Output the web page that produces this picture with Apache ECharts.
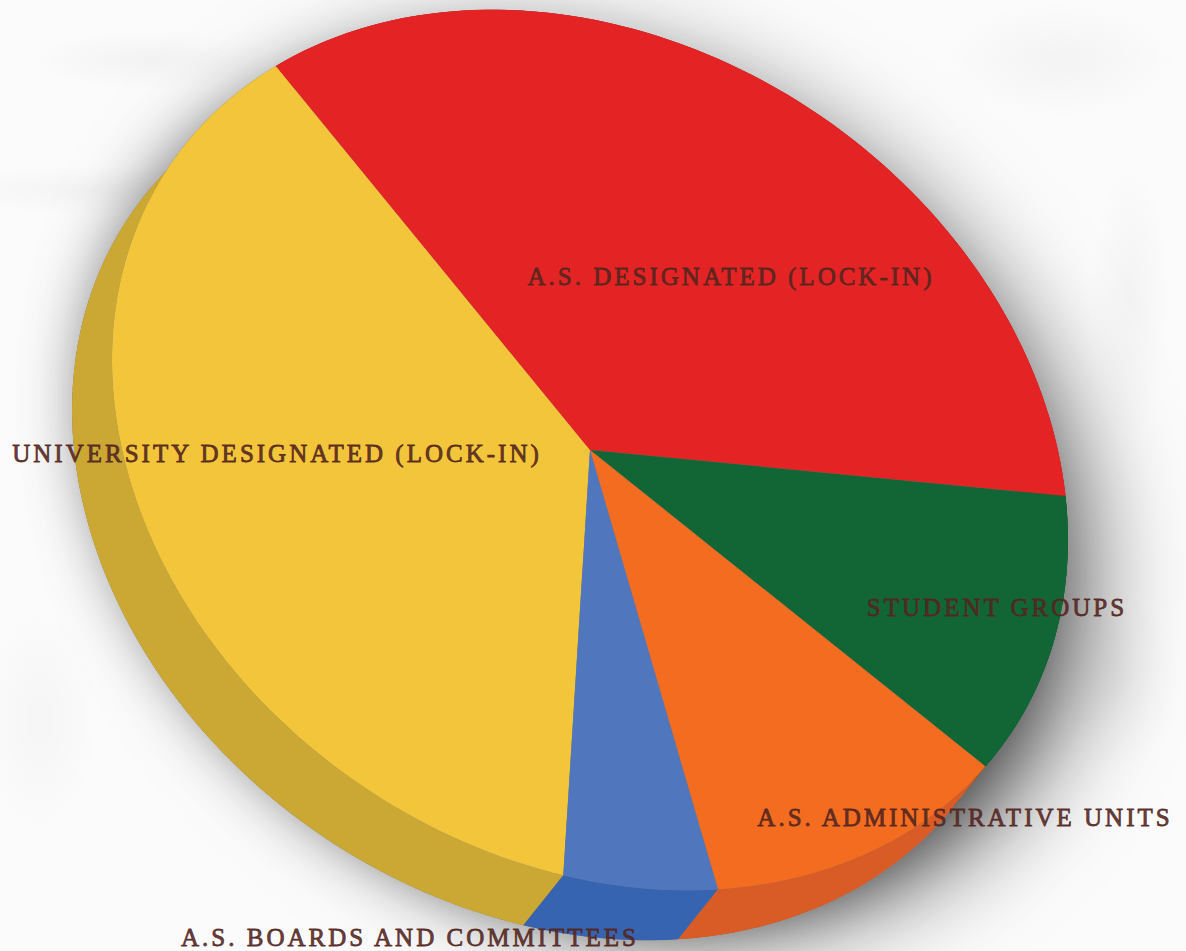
<!DOCTYPE html>
<html>
<head>
<meta charset="utf-8">
<style>
html,body{margin:0;padding:0;width:1186px;height:951px;overflow:hidden;}
body{background:
 radial-gradient(ellipse 120px 30px at 150px 60px,rgba(0,0,0,.035),transparent),
 radial-gradient(ellipse 150px 25px at 90px 190px,rgba(0,0,0,.03),transparent),
 radial-gradient(ellipse 40px 140px at 1130px 300px,rgba(0,0,0,.03),transparent),
 radial-gradient(ellipse 120px 60px at 1060px 60px,rgba(0,0,0,.03),transparent),
 radial-gradient(ellipse 60px 90px at 1120px 680px,rgba(0,0,0,.03),transparent),
 radial-gradient(ellipse 60px 120px at 40px 720px,rgba(0,0,0,.025),transparent),
 #fbfbfb;}
#chart{width:1186px;height:951px;letter-spacing:3px;}
</style>
<script src="https://cdn.jsdelivr.net/npm/echarts@6/dist/echarts.min.js"></script>
</head>
<body>
<div id="chart"></div>
<script>
var categories = ['UNIVERSITY DESIGNATED (LOCK-IN)','A.S. DESIGNATED (LOCK-IN)','STUDENT GROUPS','A.S. ADMINISTRATIVE UNITS','A.S. BOARDS AND COMMITTEES'];
var shares = [37.7, 34.8, 11.1, 11.2, 5.2];

// appearance and layout, separate from the data
var topColors  = ['#F3C53A','#E42424','#126636','#F36C20','#5077BD'];
var wallColors = ['#CBA733','#C92020','#0E5029','#D95B25','#3764B0'];
var labelAt = [[277,453],[731,276],[997,607],[965,817],[410,937]];
var centre = [590,450], tilt = {a:478,b:90,d:431}, wall = [-40,50], startDeg = 93.2;

function ellipsePoint(deg, off){
  var t = deg*Math.PI/180, c = Math.cos(t), s = Math.sin(t);
  return [centre[0]+tilt.a*c+(off?off[0]:0), centre[1]+tilt.b*c+tilt.d*s+(off?off[1]:0)];
}
function arc(from, to, off){
  var pts = [], n = Math.max(2, Math.ceil(Math.abs(to-from)/1.5));
  for (var i=0;i<=n;i++) pts.push(ellipsePoint(from+(to-from)*i/n, off));
  return pts;
}
var total = shares.reduce(function(a,b){return a+b;},0);
function toDeg(v){ return echarts.number.linearMap(v,[0,total],[startDeg,startDeg+360]); }
var cumulative = [], run = 0;
shares.forEach(function(v){ cumulative.push([run,run+v]); run += v; });

var chart = echarts.init(document.getElementById('chart'), null, {renderer:'svg', width:1186, height:951});
chart.setOption({
  backgroundColor:'transparent',
  animation:false,
  series:[{
    type:'custom',
    coordinateSystem:'none',
    silent:true,
    clip:false,
    data:shares.map(function(v,i){return {name:categories[i],value:[cumulative[i][0],cumulative[i][1]]};}),
    renderItem:function(params,api){
      var i = params.dataIndex, from = toDeg(api.value(0)), to = toDeg(api.value(1));
      var top = arc(from,to);
      var children = [];
      if (i===0){
        children.push({type:'polygon',z2:0,shape:{points:arc(0,360)},
          style:{fill:'#777',shadowColor:'rgba(0,0,0,.6)',shadowBlur:100,shadowOffsetX:22,shadowOffsetY:38}});
        children.push({type:'polygon',z2:0,shape:{points:arc(0,360,wall)},
          style:{fill:'#777',shadowColor:'rgba(0,0,0,.4)',shadowBlur:60,shadowOffsetX:10,shadowOffsetY:-10}});
      }
      children.push({type:'polygon',z2:1,
        shape:{points:top.concat(arc(to,from,wall))},
        style:{fill:wallColors[i]}});
      children.push({type:'polygon',z2:2,
        shape:{points:[centre].concat(top)},
        style:{fill:topColors[i]}});
      children.push({type:'text',z2:10,x:labelAt[i][0],y:labelAt[i][1],
        style:{text:categories[i],align:'center',verticalAlign:'middle',
          font:'25px "Liberation Serif"',fill:'#54261f',stroke:'#54261f',lineWidth:0.8,opacity:0.9}});
      return {type:'group',children:children};
    }
  }]
});
</script>
</body>
</html>
